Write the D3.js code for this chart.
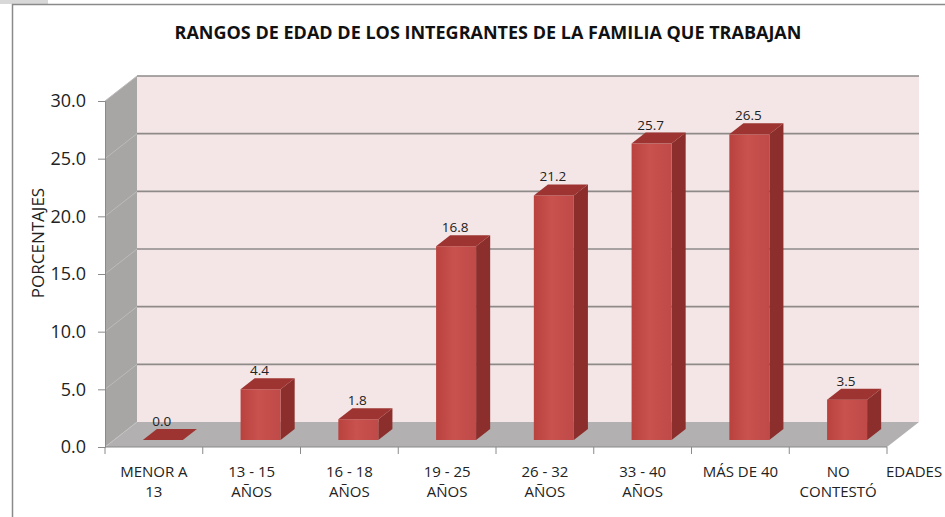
<!DOCTYPE html>
<html>
<head>
<meta charset="utf-8">
<script src="https://cdn.jsdelivr.net/npm/d3@7"></script>
<style>
  body { margin: 0; background: #fff; }
  svg { display: block; font-family: "Open Sans", sans-serif; }
</style>
</head>
<body>
<div id="chart"></div>
<script>
const categories = ["MENOR A|13", "13 - 15|AÑOS", "16 - 18|AÑOS", "19 - 25|AÑOS",
    "26 - 32|AÑOS", "33 - 40|AÑOS", "MÁS DE 40", "NO|CONTESTÓ"];
const values = [0.0, 4.4, 1.8, 16.8, 21.2, 25.7, 26.5, 3.5];
const yTicks = [0, 5, 10, 15, 20, 25, 30];

const width = 945, height = 517;
// full depth of the 3d box and the part the bars take of it
const depth = { dx: 32, dy: -25 };
const barFront = 0.28, barBack = 0.72;

const svg = d3.select("#chart").append("svg")
    .attr("width", width)
    .attr("height", height);

const defs = svg.append("defs");
const grad = defs.append("linearGradient").attr("id", "front");
grad.append("stop").attr("offset", "0%").attr("stop-color", "#b9423f");
grad.append("stop").attr("offset", "45%").attr("stop-color", "#c9514e");
grad.append("stop").attr("offset", "100%").attr("stop-color", "#bf4a47");

// outer frame
svg.append("rect").attr("x", 0).attr("y", 0).attr("width", 48).attr("height", 4).attr("fill", "#d8d8d8");
svg.append("path")
    .attr("d", "M12.5," + height + " L12.5,4.5 L" + width + ",4.5")
    .attr("fill", "none").attr("stroke", "#8a8a8a").attr("stroke-width", 1.5);

svg.append("text")
    .attr("x", 488).attr("y", 39)
    .attr("text-anchor", "middle")
    .attr("font-weight", "bold")
    .attr("font-size", 18)
    .attr("fill", "#111")
    .text("RANGOS DE EDAD DE LOS INTEGRANTES DE LA FAMILIA QUE TRABAJAN");

const x = d3.scaleBand().domain(categories).range([105, 887]);
const y = d3.scaleLinear().domain([0, 30]).range([447, 101]);

const off = t => [depth.dx * t, depth.dy * t];
const pts = arr => arr.map(p => p.join(",")).join(" ");

const x0 = x.range()[0], x1 = x.range()[1];
const y0 = y(0), yTop = y(30);

// back wall
svg.append("polygon")
    .attr("points", pts([[x0 + depth.dx, yTop + depth.dy], [x1 + depth.dx, yTop + depth.dy],
        [x1 + depth.dx, y0 + depth.dy], [x0 + depth.dx, y0 + depth.dy]]))
    .attr("fill", "#f4e6e6");

// left wall
svg.append("polygon")
    .attr("points", pts([[x0, yTop], [x0 + depth.dx, yTop + depth.dy],
        [x0 + depth.dx, y0 + depth.dy], [x0, y0]]))
    .attr("fill", "#a8a5a5");

// floor
svg.append("polygon")
    .attr("points", pts([[x0, y0], [x1, y0], [x1 + depth.dx, y0 + depth.dy], [x0 + depth.dx, y0 + depth.dy]]))
    .attr("fill", "#b2b0b0");

// gridlines: back wall and left wall
const grid = svg.append("g");
yTicks.filter(d => d > 0).forEach(d => {
    grid.append("line")
        .attr("x1", x0 + depth.dx).attr("x2", x1 + depth.dx)
        .attr("y1", y(d) + depth.dy).attr("y2", y(d) + depth.dy)
        .attr("stroke", "#8e8a8a").attr("stroke-width", 1.6);
    grid.append("line")
        .attr("x1", x0).attr("x2", x0 + depth.dx)
        .attr("y1", y(d)).attr("y2", y(d) + depth.dy)
        .attr("stroke", "#bcbaba").attr("stroke-width", 1);
});
grid.append("line")
    .attr("x1", x0).attr("x2", x0 + depth.dx)
    .attr("y1", y0).attr("y2", y0 + depth.dy)
    .attr("stroke", "#c4c2c2").attr("stroke-width", 1);

// y axis
const yAxis = svg.append("g")
    .attr("transform", "translate(" + x0 + ",0)")
    .call(d3.axisLeft(y).tickValues(yTicks).tickFormat(d3.format(".1f")).tickSize(7).tickPadding(12));
yAxis.select(".domain").attr("stroke", "#8a8a8a");
yAxis.selectAll(".tick line").attr("stroke", "#8a8a8a");
yAxis.selectAll(".tick text").attr("font-size", 18).attr("fill", "#222")
    .attr("font-family", "Open Sans, sans-serif");

svg.append("text")
    .attr("transform", "translate(44," + 243 + ") rotate(-90)")
    .attr("text-anchor", "middle")
    .attr("font-size", 17)
    .attr("fill", "#222")
    .text("PORCENTAJES");

// x axis line and ticks at category boundaries
const xa = svg.append("g");
xa.append("line").attr("x1", x0).attr("x2", x1).attr("y1", y0).attr("y2", y0)
    .attr("stroke", "#8a8a8a").attr("stroke-width", 1);
d3.range(categories.length + 1).forEach(i => {
    const xx = x0 + i * x.step();
    xa.append("line").attr("x1", xx).attr("x2", xx).attr("y1", y0).attr("y2", y0 + 7)
        .attr("stroke", "#8a8a8a");
});
categories.forEach(c => {
    const t = xa.append("text")
        .attr("x", x(c) + x.bandwidth() / 2)
        .attr("y", 477)
        .attr("text-anchor", "middle")
        .attr("font-size", 15)
        .attr("fill", "#222");
    c.split("|").forEach((line, i) => {
        t.append("tspan").attr("x", x(c) + x.bandwidth() / 2).attr("dy", i ? 20 : 0).text(line);
    });
});
svg.append("text")
    .attr("x", 886).attr("y", 477)
    .attr("font-size", 15)
    .attr("fill", "#222")
    .text("EDADES");

// bars
const barW = 40;
const bars = svg.append("g").selectAll("g")
    .data(categories.map((c, i) => ({ c, v: values[i] })))
    .join("g");

bars.each(function (d) {
    const g = d3.select(this);
    const [fx, fy] = off(barFront);
    const [bx, by] = off(barBack);
    const cx = x(d.c) + x.bandwidth() / 2 + fx;
    const l = cx - barW / 2, r = cx + barW / 2;
    const bot = y(0) + fy, top = y(d.v) + fy;
    const ddx = bx - fx, ddy = by - fy;

    // side
    g.append("polygon")
        .attr("points", pts([[r, top], [r + ddx, top + ddy], [r + ddx, bot + ddy], [r, bot]]))
        .attr("fill", "#8c2e2c");
    // front
    if (d.v > 0) {
        g.append("rect")
            .attr("x", l).attr("y", top)
            .attr("width", barW).attr("height", bot - top)
            .attr("fill", "url(#front)");
    }
    // top
    g.append("polygon")
        .attr("points", pts([[l, top], [r, top], [r + ddx, top + ddy], [l + ddx, top + ddy]]))
        .attr("fill", "#9e3431");

    g.append("text")
        .attr("x", cx - 1)
        .attr("y", top + ddy - 3)
        .attr("text-anchor", "middle")
        .attr("font-size", 13.5)
        .attr("fill", "#222")
        .text(d3.format(".1f")(d.v));
});
</script>
</body>
</html>
